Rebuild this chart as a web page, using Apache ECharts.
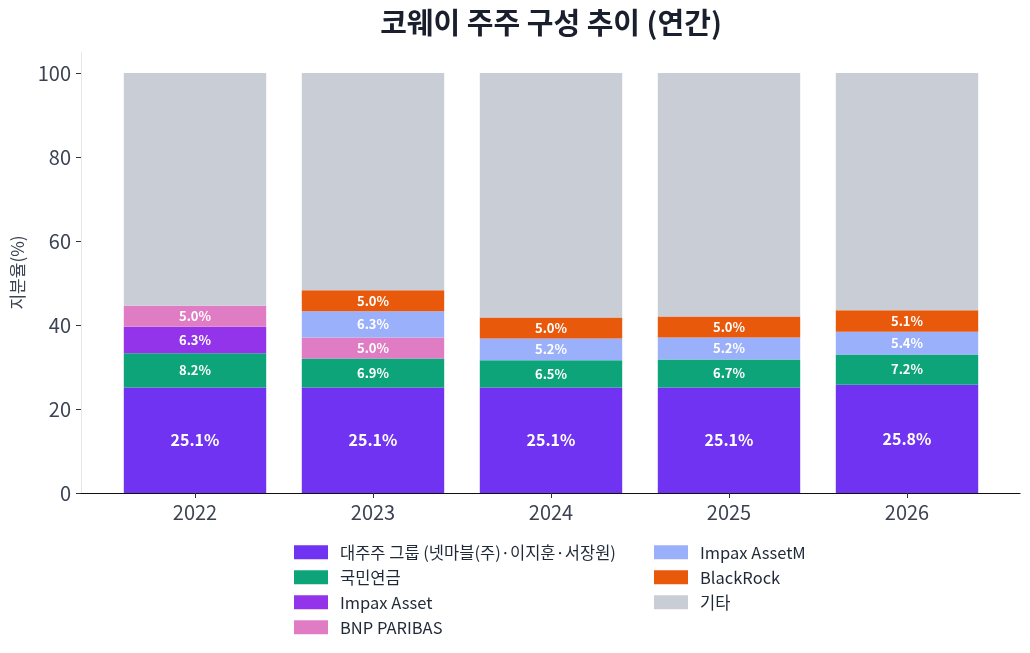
<!DOCTYPE html>
<html>
<head>
<meta charset="utf-8">
<script src="https://cdn.jsdelivr.net/npm/echarts@6/dist/echarts.min.js"></script>
<style>
  html, body { margin: 0; padding: 0; background: #fff; }
  #chart { width: 1030px; height: 653px; }
</style>
</head>
<body>
<div id="chart"></div>
<script>
// 연도 (x축)
var years = ['2022', '2023', '2024', '2025', '2026'];

// 주주별 지분율(%) - 0 은 해당 연도 없음
var majorGroup = [25.1, 25.1, 25.1, 25.1, 25.8];
var nps        = [8.2, 6.9, 6.5, 6.7, 7.2];
var impaxAsset = [6.3, 0, 0, 0, 0];
var bnp        = [5.0, 5.0, 0, 0, 0];
var impaxM     = [0, 6.3, 5.2, 5.2, 5.4];
var blackRock  = [0, 5.0, 5.0, 5.0, 5.1];
var others     = [55.4, 51.7, 58.2, 58.0, 56.5];

var yTicks = [0, 20, 40, 60, 80, 100];

var seriesDefs = [
  { name: '대주주 그룹 (넷마블(주)·이지훈·서장원)', values: majorGroup, color: '#7133f2', big: true },
  { name: '국민연금', values: nps, color: '#0ea47a' },
  { name: 'Impax Asset', values: impaxAsset, color: '#9333ea' },
  { name: 'BNP PARIBAS', values: bnp, color: '#e07cc4' },
  { name: 'Impax AssetM', values: impaxM, color: '#9bb0fb' },
  { name: 'BlackRock', values: blackRock, color: '#e8590c' },
  { name: '기타', values: others, color: '#c9cdd6', noLabel: true }
];

var FONT = '"Noto Sans CJK KR", "Noto Sans", sans-serif';
var chart = echarts.init(document.getElementById('chart'), null, { renderer: 'canvas' });

// 막대는 grid 1 (카테고리 축), 외곽 축선은 grid 0
var series = seriesDefs.map(function (d) {
  return {
    name: d.name,
    type: 'bar',
    stack: 'total',
    xAxisIndex: 1,
    yAxisIndex: 1,
    barWidth: '80%',
    itemStyle: { color: d.color },
    label: {
      show: !d.noLabel,
      position: 'inside',
      color: '#fff',
      fontFamily: FONT,
      fontWeight: 'bold',
      fontSize: d.big ? 16 : 13,
      formatter: function (p) {
        return p.value > 0 ? p.value.toFixed(1) + '%' : '';
      }
    },
    data: d.values
  };
});

var legendBase = {
  orient: 'vertical',
  top: 539,
  itemWidth: 34,
  itemHeight: 14,
  itemGap: 8.5,
  icon: 'rect',
  textStyle: { fontFamily: FONT, fontSize: 16.5, color: '#1f2937', padding: [0, 0, 0, 7] }
};

var option = {
  animation: false,
  textStyle: { fontFamily: FONT },
  title: {
    text: '코웨이 주주 구성 추이 (연간)',
    left: 546,
    top: 3,
    textAlign: 'center',
    textStyle: { fontFamily: FONT, fontSize: 29, fontWeight: 'bold', color: '#1a1f2e' }
  },
  legend: [
    Object.assign({}, legendBase, {
      left: 289,
      data: seriesDefs.slice(0, 4).map(function (d) { return d.name; })
    }),
    Object.assign({}, legendBase, {
      left: 649,
      data: seriesDefs.slice(4).map(function (d) { return d.name; })
    })
  ],
  grid: [
    { left: 81, right: 10, top: 52, bottom: 160 },
    { left: 106, right: 34, top: 52, bottom: 160 }
  ],
  xAxis: [
    {
      gridIndex: 0,
      type: 'value',
      min: 0,
      max: 1,
      splitLine: { show: false },
      axisLine: { show: true, onZero: false, lineStyle: { color: '#111', width: 1.2 } },
      axisTick: { show: false },
      axisLabel: { show: false }
    },
    {
      gridIndex: 1,
      type: 'category',
      data: years,
      axisLine: { show: false },
      axisTick: { show: true, alignWithLabel: true, length: 5, lineStyle: { color: '#333' } },
      axisLabel: { fontFamily: FONT, fontSize: 20, color: '#3b4252', margin: 9 }
    }
  ],
  yAxis: [
    {
      gridIndex: 0,
      type: 'value',
      min: 0,
      max: 105,
      name: '지분율(%)',
      nameLocation: 'middle',
      nameGap: 55,
      nameTextStyle: { fontFamily: FONT, fontSize: 17, color: '#3b4252' },
      splitLine: { show: false },
      axisLine: { show: true, onZero: false, lineStyle: { color: '#e5e7eb' } },
      axisTick: { show: true, length: 5, customValues: yTicks, lineStyle: { color: '#333' } },
      axisLabel: {
        customValues: yTicks,
        fontFamily: FONT,
        fontSize: 20,
        color: '#3b4252',
        margin: 10
      }
    },
    {
      gridIndex: 1,
      type: 'value',
      min: 0,
      max: 105,
      show: false,
      splitLine: { show: false }
    }
  ],
  series: series
};

chart.setOption(option);
</script>
</body>
</html>
